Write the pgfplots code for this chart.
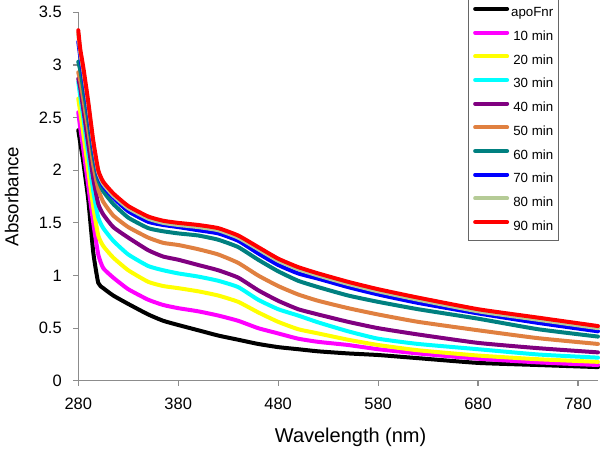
\documentclass[border=0pt]{standalone}
\usepackage{fontspec}
\setmainfont{Liberation Sans}
\usepackage{pgfplots}
\usepackage{pgfplotstable}
\pgfplotsset{compat=1.18}

\definecolor{cMag}{RGB}{255,0,255}
\definecolor{cYel}{RGB}{255,255,0}
\definecolor{cCya}{RGB}{0,255,255}
\definecolor{cPur}{RGB}{128,0,128}
\definecolor{cOra}{RGB}{224,128,64}
\definecolor{cTea}{RGB}{0,128,128}
\definecolor{cBlu}{RGB}{0,0,255}
\definecolor{cGre}{RGB}{181,203,150}
\definecolor{cRed}{RGB}{255,0,0}
\definecolor{axgray}{RGB}{140,140,140}

% absorbance spectra
\pgfplotstableread{
x   apo   m10   m20   m30   m40   m50   m60   m70   m80   m90
280 2.38  2.55  2.68  2.84  2.87  2.93  3.03  3.22  3.30  3.33
282 2.26  2.40  2.55  2.70  2.78  2.85  2.95  3.08  3.12  3.15
285 2.08  2.20  2.35  2.50  2.58  2.68  2.78  2.90  2.95  2.98
290 1.72  1.85  2.00  2.15  2.25  2.38  2.48  2.58  2.62  2.65
295 1.22  1.50  1.65  1.80  1.92  2.05  2.15  2.22  2.26  2.28
300 0.93  1.20  1.38  1.55  1.68  1.82  1.91  1.96  1.98  2.00
305 0.88  1.07  1.28  1.45  1.58  1.70  1.80  1.85  1.87  1.89
315 0.81  0.98  1.17  1.33  1.46  1.57  1.68  1.74  1.76  1.78
330 0.73  0.87  1.05  1.20  1.36  1.46  1.55  1.61  1.64  1.66
350 0.63  0.77  0.94  1.09  1.24  1.36  1.45  1.51  1.54  1.56
365 0.57  0.72  0.90  1.05  1.18  1.31  1.42  1.48  1.50  1.52
380 0.53  0.69  0.88  1.02  1.15  1.29  1.40  1.46  1.48  1.50
400 0.48  0.66  0.85  0.99  1.10  1.25  1.38  1.43  1.46  1.48
420 0.43  0.62  0.81  0.95  1.05  1.20  1.34  1.40  1.43  1.45
440 0.39  0.57  0.75  0.89  0.98  1.12  1.27  1.33  1.36  1.38
460 0.35  0.50  0.65  0.77  0.86  1.00  1.15  1.21  1.25  1.27
480 0.32  0.45  0.56  0.68  0.76  0.90  1.04  1.10  1.14  1.16
500 0.30  0.40  0.49  0.62  0.68  0.82  0.95  1.02  1.06  1.08
520 0.28  0.37  0.45  0.555 0.63  0.76  0.89  0.97  1.00  1.02
550 0.26  0.34  0.39  0.47  0.56  0.69  0.81  0.89  0.92  0.94
580 0.245 0.30  0.34  0.40  0.50  0.63  0.75  0.82  0.85  0.87
620 0.215 0.26  0.29  0.35  0.44  0.56  0.68  0.74  0.77  0.79
680 0.17  0.21  0.24  0.30  0.36  0.48  0.59  0.64  0.66  0.68
740 0.15  0.175 0.205 0.25  0.31  0.405 0.49  0.55  0.58  0.60
800 0.13  0.15  0.18  0.22  0.27  0.35  0.42  0.47  0.50  0.52
}\spectra

\begin{document}
\begin{tikzpicture}
\begin{axis}[
    scale only axis,
    width=520pt, height=368.7pt,
    xmin=280, xmax=800,
    ymin=0, ymax=3.5,
    xtick={280,380,480,580,680,780},
    ytick={0,0.5,1,1.5,2,2.5,3,3.5},
    axis x line=bottom, axis y line=left,
    axis line style={-, draw=axgray, line width=1.2pt},
    tick align=outside,
    major tick length=5pt,
    tick style={draw=axgray, line width=1.2pt},
    /pgf/number format/assume math mode=true,
    tick label style={font=\fontsize{16.5}{20}\selectfont},
    yticklabel style={xshift=-8pt},
    xticklabel style={yshift=-9pt},
    xlabel={Wavelength (nm)},
    ylabel={Absorbance},
    xlabel style={font=\fontsize{20}{24}\selectfont, at={(axis description cs:0.524,0)}, anchor=base, yshift=-62pt},
    ylabel style={font=\fontsize{18.7}{22}\selectfont, at={(axis description cs:0,0.5)}, anchor=base, yshift=60pt},
    clip=false,
    every axis plot/.append style={line width=4pt, line join=round, line cap=round, smooth, tension=0.3},
    legend cell align=right,
    legend style={
        at={(rel axis cs:0.7494,1.036)}, anchor=north west,
        draw=gray!80!black, line width=0.8pt, fill=white,
        font=\fontsize{13.3}{16}\selectfont,
        inner xsep=5pt, inner ysep=7.5pt,
        row sep=10.7pt, column sep=2pt,
        nodes={inner sep=0pt, text height=10pt, text depth=3pt},
    },
    legend image code/.code={\draw[#1, line width=4pt] (0pt,4.5pt) -- (32pt,4.5pt);},
]
\addplot[black]      table[x=x, y=apo] {\spectra};
\addplot[cMag]       table[x=x, y=m10] {\spectra};
\addplot[cYel]       table[x=x, y=m20] {\spectra};
\addplot[cCya]       table[x=x, y=m30] {\spectra};
\addplot[cPur]       table[x=x, y=m40] {\spectra};
\addplot[cOra]       table[x=x, y=m50] {\spectra};
\addplot[cTea]       table[x=x, y=m60] {\spectra};
\addplot[cBlu]       table[x=x, y=m70] {\spectra};
\addplot[cGre]       table[x=x, y=m80] {\spectra};
\addplot[cRed]       table[x=x, y=m90] {\spectra};
\legend{apoFnr,10 min,20 min,30 min,40 min,50 min,60 min,70 min,80 min,90 min}
\end{axis}
\pgfresetboundingbox
\path[use as bounding box] ([xshift=-78.3pt,yshift=-68pt]current axis.south west) rectangle ([xshift=2pt,yshift=12.3pt]current axis.north east);
\end{tikzpicture}
\end{document}
